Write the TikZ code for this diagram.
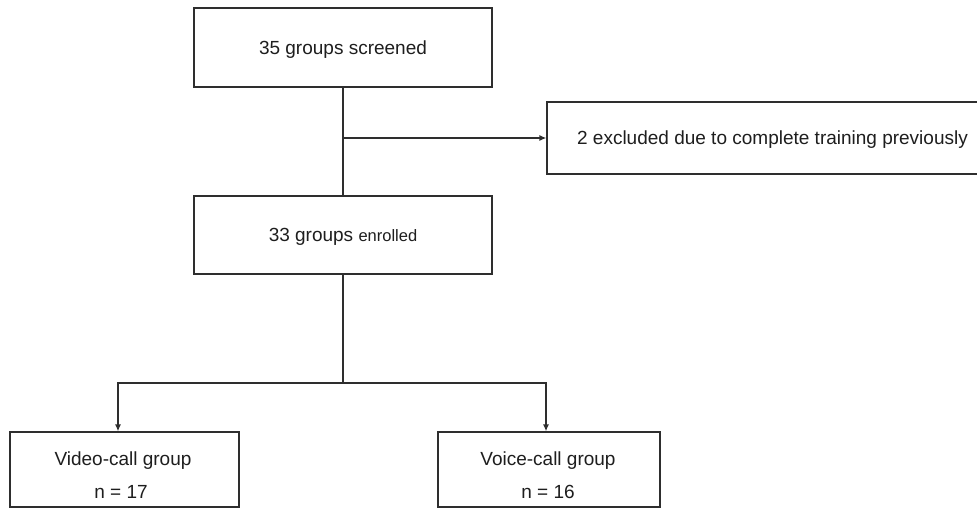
\documentclass[tikz,border=0pt]{standalone}
\usepackage{fontspec}
\setmainfont{Liberation Sans}
\usetikzlibrary{arrows.meta}
\definecolor{linec}{HTML}{2E2E2E}
\definecolor{textc}{HTML}{1E1E1E}
\begin{document}
\begin{tikzpicture}[x=1pt,y=-1pt,
  box/.style={draw=linec, line width=1.3pt, inner sep=0pt, text=textc,
    text depth=0pt, font=\fontsize{19}{22}\selectfont},
  lbl/.style={inner sep=0pt, anchor=base, text=textc, font=\fontsize{19}{22}\selectfont},
  conn/.style={draw=linec, line width=1.3pt},
  arr/.style={conn, -{Latex[length=7pt,width=6pt]}}]
\useasboundingbox (0,0) rectangle (977,509);
\fill[white] (0,0) rectangle (977,509);
% boxes
\node[box, minimum width=298pt, minimum height=79pt] (screen) at (343,47.5) {35 groups screened};
\node[box, minimum width=451pt, minimum height=72pt] (excl) at (772.5,138) {2 excluded due to complete training previously};
\node[box, minimum width=298pt, minimum height=78pt] (enrol) at (343,235) {33 groups {\fontsize{16.5}{20}\selectfont enrolled}};
\node[box, minimum width=229pt, minimum height=75pt] (video) at (124.5,469.5) {};
\node[box, minimum width=222pt, minimum height=75pt] (voice) at (549,469.5) {};
% bottom labels
\node[lbl] (video1) at (123,465) {Video-call group};
\node[lbl] (video2) at (121,498) {n = 17};
\node[lbl] (voice1) at (548,465) {Voice-call group};
\node[lbl] (voice2) at (548,498) {n = 16};
% connectors
\draw[conn] (screen.south) -- (enrol.north);
\draw[arr] (screen.south |- excl.west) -- (excl.west);
\coordinate (split) at (343,383);
\coordinate (va) at (118,383);
\coordinate (vb) at (546,383);
\draw[conn] (enrol.south) -- (split);
\draw[arr] (split) -- (va) -- (va |- video.north);
\draw[arr] (split) -- (vb) -- (vb |- voice.north);
\end{tikzpicture}
\end{document}
